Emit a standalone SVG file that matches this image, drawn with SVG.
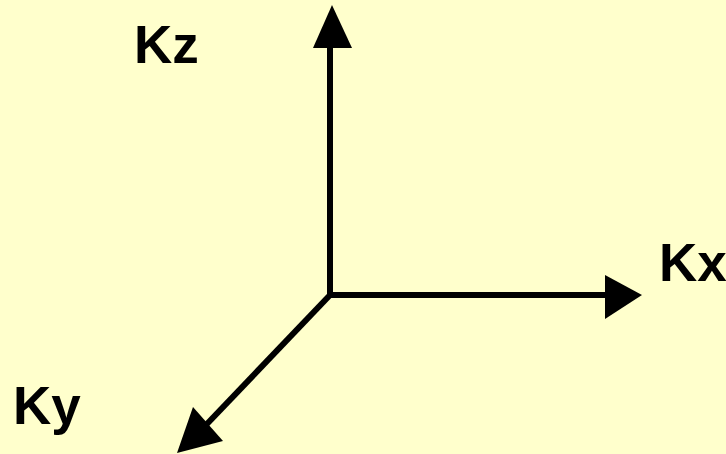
<svg xmlns="http://www.w3.org/2000/svg" width="726" height="454" viewBox="0 0 726 454">
<style>
.ax{stroke:#000;stroke-width:6;fill:none}
.hd{fill:#000}
.lb{font-family:"Liberation Sans",Arial,sans-serif;font-weight:bold;font-size:53px;fill:#000}
</style>
<rect width="726" height="454" fill="#FFFFCC"/>
<g id="connectors">
<line class="ax" x1="330" y1="297" x2="330" y2="45"/>
<polygon class="hd" points="332,5 313,48 352,48"/>
<line class="ax" x1="327" y1="295" x2="608" y2="295"/>
<polygon class="hd" points="642,295 605,275 605,319"/>
<line class="ax" x1="331" y1="294" x2="205" y2="426"/>
<polygon class="hd" points="177,453 193,407 223,441"/>
</g>
<g id="Kz"><text class="lb" x="134" y="63">Kz</text></g>
<g id="Kx"><text class="lb" x="659" y="281">Kx</text></g>
<g id="Ky"><text class="lb" x="13" y="424">Ky</text></g>
</svg>
